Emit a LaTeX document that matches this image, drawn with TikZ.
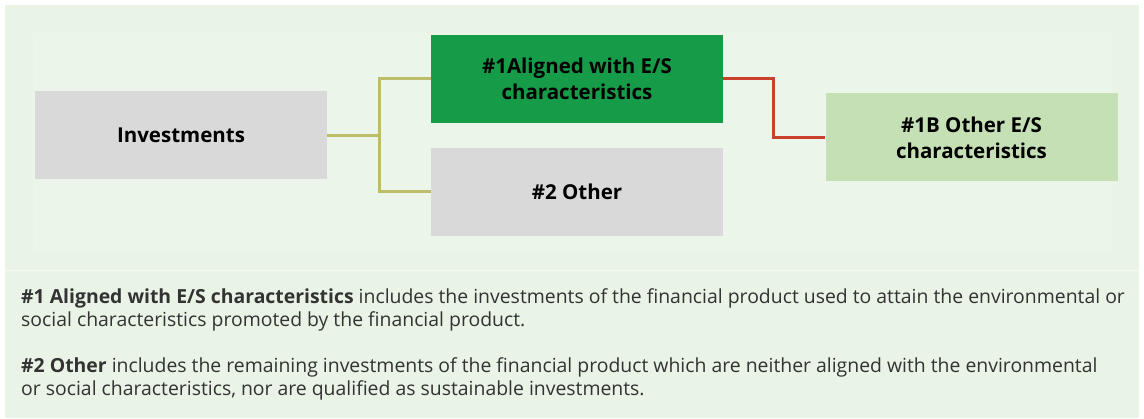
\documentclass[tikz,border=0pt]{standalone}
\usepackage{fontspec}
\setmainfont{Open Sans}
\usetikzlibrary{positioning}
\definecolor{bgpale}{HTML}{E9F3E6}
\definecolor{bginner}{HTML}{ECF5E9}
\definecolor{boxgray}{HTML}{D9D9D9}
\definecolor{boxgreen}{HTML}{169C48}
\definecolor{boxlight}{HTML}{C5E0B4}
\definecolor{linkolive}{HTML}{BFBD6C}
\definecolor{linkred}{HTML}{C9402C}
\definecolor{bodytext}{HTML}{333333}
\tikzset{
box/.style={ % the category boxes
minimum width=292pt,
minimum height=88pt,
align=center,
font=\fontsize{20.5}{26}\selectfont\bfseries,
text=black},
link/.style={ % the elbow connectors
line width=3pt},
note/.style={
anchor=north west,
align=left,
inner sep=0pt,
text=bodytext,
font=\fontsize{19.4}{23}\selectfont}}

\begin{document}
\begin{tikzpicture}[x=1pt,y=-1pt]
\useasboundingbox (0,0) rectangle (1144,419);
\fill[bgpale] (5,5) rectangle (1139,418);
\fill[bginner] (33,33) rectangle (1112,252);
\draw[white!60!bgpale] (5,270) -- (1139,270);
\node[box, fill=boxgray] (inv) at (181,135.5) {Investments};
\node[box, fill=boxgreen] (aligned) at (577,79) {\#1Aligned with E/S\\characteristics};
\node[box, fill=boxgray] (other) at (577,192) {\#2 Other};
\node[box, fill=boxlight] (otheres) at (971.5,137.5) {\#1B Other E/S\\characteristics};
\coordinate (split) at (379,135.5);
\draw[link, linkolive] (inv.east) -- (split);
\draw[link, linkolive] (split) |- (aligned.west);
\draw[link, linkolive] (split) |- (other.west);
\draw[link, linkred] (aligned.east) -- ++(50,0) |- (otheres.west);
% footnotes
\node[note] (note1) at (21,288) {\textbf{\#1 Aligned with E/S characteristics} includes the investments of the financial product used to attain the environmental or\\social characteristics promoted by the financial product.};
\node[note] (note2) at (21,357) {\textbf{\#2 Other} includes the remaining investments of the financial product which are neither aligned with the environmental\\or social characteristics, nor are qualified as sustainable investments.};
\end{tikzpicture}
\end{document}
